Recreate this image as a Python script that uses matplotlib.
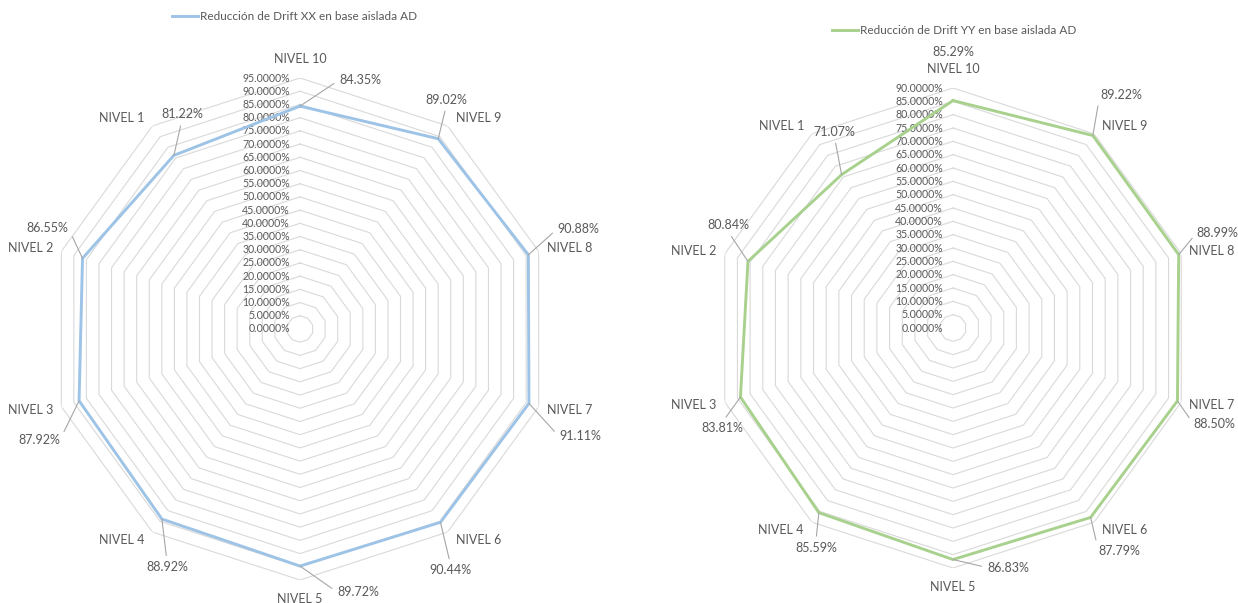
"""
Radar charts: drift reduction per level (XX and YY) for the AD isolated base.
"""

import numpy as np
import matplotlib
matplotlib.use("Agg")
import matplotlib.pyplot as plt

plt.rcParams["font.family"] = ["Lato", "DejaVu Sans"]

niveles = ["NIVEL 10", "NIVEL 9", "NIVEL 8", "NIVEL 7", "NIVEL 6",
           "NIVEL 5", "NIVEL 4", "NIVEL 3", "NIVEL 2", "NIVEL 1"]
drift_xx = [84.35, 89.02, 90.88, 91.11, 90.44, 89.72, 88.92, 87.92, 86.55, 81.22]
drift_yy = [85.29, 89.22, 88.99, 88.50, 87.79, 86.83, 85.59, 83.81, 80.84, 71.07]
max_xx = 95
max_yy = 90
serie_xx = "Reducción de Drift XX en base aislada AD"
serie_yy = "Reducción de Drift YY en base aislada AD"

# where each value label sits relative to its point (pixels, y up)
offsets_xx = [(60, 26), (8, 39), (50, 26), (51, -33), (10, -48),
              (58, -26), (5, -48), (-40, -39), (-35, 30), (8, 41)]
offsets_yy = [(0, 49), (28, 41), (39, 22), (37, -23), (29, -34),
              (55, -8), (-3, -35), (-18, -31), (-20, 36), (-7, 43)]

GRID = "#d9d9d9"
TEXT = "#595959"
LEADER = "#a6a6a6"

W, H = 1238, 603


def radar(rect, values, rmax, color, offsets, serie, legend_xy):
    ax = fig.add_axes(rect, projection="polar")
    ax.set_theta_zero_location("N")
    ax.set_theta_direction(-1)
    ax.set_ylim(0, rmax)
    ax.set_xticks([])
    ax.set_yticks([])
    ax.grid(False)
    ax.spines["polar"].set_visible(False)
    ax.patch.set_alpha(0)

    n = len(niveles)
    theta = np.arange(n) * 2 * np.pi / n
    closed = np.append(theta, theta[0])

    # polygon rings every 5 %
    for lv in range(0, rmax + 1, 5):
        ax.plot(closed, [lv] * (n + 1), color=GRID, lw=0.8, zorder=1)
        ax.annotate(f"{lv:.4f}%", xy=(0, lv), xytext=(-10, 0),
                    textcoords="offset pixels", ha="right", va="center",
                    fontsize=7.6, color=TEXT, zorder=2)

    line, = ax.plot(closed, list(values) + [values[0]], color=color,
                    lw=2.1, zorder=3, label=serie)

    # category names just outside the outer ring
    for t, name in zip(theta, niveles):
        s, c = np.sin(t), np.cos(t)
        if abs(s) < 0.1:
            dx, dy, ha = 0, 19 * np.sign(c), "center"
        else:
            dx, dy = 8 * np.sign(s), 10 * c
            ha = "left" if s > 0 else "right"
        ax.annotate(name, xy=(t, rmax), xytext=(dx, dy),
                    textcoords="offset pixels", ha=ha, va="center",
                    fontsize=9, color=TEXT)

    # value labels with leader lines
    for t, v, (dx, dy) in zip(theta, values, offsets):
        if dx == 0:
            arrow = None
        else:
            if abs(dx) >= 25:
                rel = (0, 0.5) if dx > 0 else (1, 0.5)
            else:
                rel = (0.5, 0) if dy > 0 else (0.5, 1)
            arrow = dict(arrowstyle="-", color=LEADER, lw=0.8,
                         shrinkA=2, shrinkB=0, relpos=rel)
        ax.annotate(f"{v:.2f}%", xy=(t, v), xytext=(dx, dy),
                    textcoords="offset pixels", ha="center", va="center",
                    fontsize=9, color=TEXT, arrowprops=arrow, zorder=4)

    ax.legend(handles=[line], loc="center", bbox_to_anchor=legend_xy,
              bbox_transform=fig.transFigure, frameon=False,
              fontsize=8.5, handlelength=2.2, handletextpad=0.2,
              labelcolor=TEXT)
    return ax


fig = plt.figure(figsize=(W / 100, H / 100), dpi=100)

# left chart: centre (300, 274) px from bottom-left, outer ring 251 px
radar([(300 - 251) / W, (274 - 251) / H, 502 / W, 502 / H],
      drift_xx, max_xx, "#9dc3e6", offsets_xx, serie_xx, (0.238, 0.972))

# right chart: centre (953, 275), outer ring 240 px
radar([(953 - 240) / W, (275 - 240) / H, 480 / W, 480 / H],
      drift_yy, max_yy, "#a9d18e", offsets_yy, serie_yy, (0.771, 0.949))

fig.savefig("out.png", dpi=100, facecolor="white")
